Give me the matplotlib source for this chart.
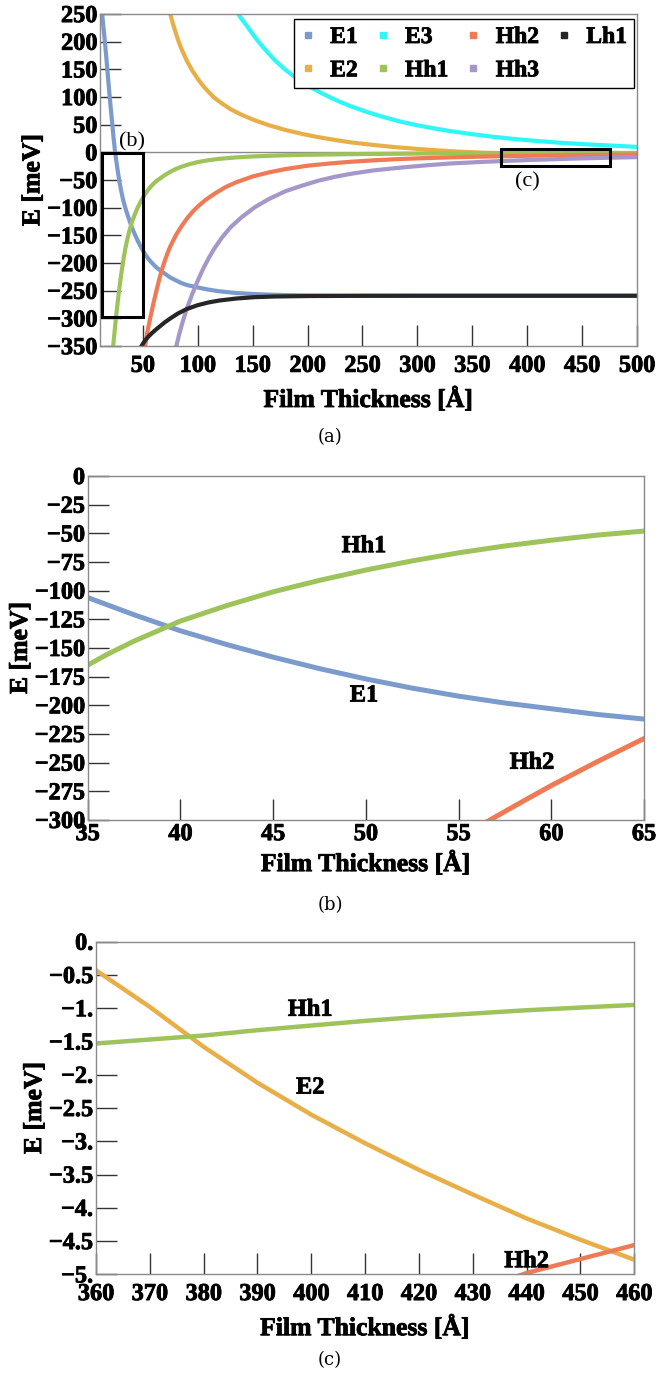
import matplotlib
matplotlib.use("Agg")
import matplotlib.pyplot as plt
import matplotlib.patheffects as pe
from matplotlib.lines import Line2D
from matplotlib.patches import Rectangle

# ---- energy levels vs film thickness ----
e1_x = [13, 14.2, 15.5, 16.5, 17.6, 18.7, 19.8, 21, 22.2, 23.4, 24.8, 26, 27, 28, 29, 30,
        31, 32, 33, 34, 35, 37.5, 40, 42.5, 45, 47.5, 50, 52.5, 55, 57.5, 60, 62.5, 65,
        70, 75, 80, 85, 90, 100, 110, 120, 135, 150, 165, 180, 200, 230, 300, 500]
e1_y = [250, 225, 200, 178, 152, 127, 102, 76, 51, 26, 0, -17, -31, -44, -56, -66, -76,
        -85, -92.5, -99.5, -106, -121, -135, -147, -158, -168, -177, -185, -192, -198,
        -203, -208, -212, -219, -226, -231, -236, -239.5, -244, -248, -251, -254, -255.8,
        -257, -257.8, -258.4, -258.8, -259, -259]

e2_x = [75, 77.5, 80, 82.5, 85, 90, 95, 100, 105, 110, 115, 122, 130, 140, 152, 165, 180,
        195, 210, 225, 240, 260, 280, 300, 320, 340, 360, 370, 380, 390, 400, 410, 420,
        430, 440, 450, 460, 480, 500]
e2_y = [250, 232, 216, 201, 188, 166, 148, 133, 120, 109, 99, 88.6, 78, 68, 58, 49, 40.5,
        33.5, 27.5, 22.5, 18, 13.5, 9.5, 6.3, 3.5, 1.2, -0.43, -0.98, -1.58, -2.12, -2.60,
        -3.03, -3.43, -3.80, -4.16, -4.48, -4.78, -5.3, -5.8]

e3_x = [137, 140, 145, 150, 155, 160, 170, 180, 190, 200, 210, 220, 230, 240, 255, 270,
        285, 300, 315, 330, 350, 370, 390, 410, 430, 450, 475, 500]
e3_y = [250, 241, 228, 214, 201, 189, 167, 149, 134, 121, 110, 100, 91, 83, 72.5, 63.5,
        55.5, 49, 43.5, 38.5, 33, 28, 24, 20.5, 17.5, 15, 12.5, 10]

hh1_x = [23, 24, 25, 26, 27, 28, 29, 30, 31, 32, 33, 34, 35, 36, 37.5, 40, 42.5, 45, 47.5,
         50, 52.5, 55, 57.5, 60, 62.5, 65, 70, 75, 80, 85, 92, 100, 110, 120, 135, 150,
         175, 200, 250, 300, 360, 370, 380, 390, 400, 410, 420, 430, 440, 450, 460, 500]
hh1_y = [-351, -330, -310, -291, -273, -256, -240, -225, -211, -198, -186, -175, -165,
         -156, -144, -126.5, -113, -101, -91, -82, -74, -67, -61, -56, -51.5, -48, -41,
         -35, -30, -26, -21.5, -17.5, -14, -11.5, -9, -7.3, -5.4, -4.2, -2.9, -2.1, -1.53,
         -1.47, -1.41, -1.33, -1.26, -1.19, -1.13, -1.08, -1.03, -0.99, -0.95, -0.8]

hh2_x = [52, 53, 54, 55, 56.7, 58, 60, 62.5, 65, 67.5, 70, 72.5, 75, 80, 85, 90, 95, 100,
         107, 115, 125, 135, 150, 165, 180, 200, 220, 240, 260, 280, 300, 330, 360, 400,
         440, 450, 460, 500]
hh2_y = [-350, -338, -326, -316, -300, -288, -270, -249, -229, -211, -196, -182, -170,
         -150, -134, -120, -108, -98, -86, -75, -63, -54, -43.5, -36, -30, -24, -20, -16.8,
         -14.3, -12.3, -10.7, -8.9, -7.5, -6.1, -4.98, -4.77, -4.56, -3.9]

hh3_x = [80.5, 83, 86, 90, 95, 100, 105, 110, 115, 122, 130, 140, 152, 165, 180, 195, 210,
         225, 240, 260, 287, 310, 330, 360, 400, 440, 470, 500]
hh3_y = [-350, -330, -308, -283, -256, -232, -210, -191, -174, -154, -135, -117, -99, -84,
         -70, -60, -51, -44, -38.5, -32.5, -27, -23, -20, -17, -13.8, -11.3, -9.8, -8.5]

lh1_x = [48.5, 50, 52, 55, 58, 62, 66, 70, 75, 82, 90, 100, 110, 120, 135, 152, 170, 200,
         250, 300, 500]
lh1_y = [-351, -346, -340, -333, -327, -320, -313.5, -307, -300, -291, -283, -276, -271,
         -267.5, -264, -261.5, -260.3, -259.5, -259.1, -259, -259]

names = ["E1", "E2", "E3", "Hh1", "Hh2", "Hh3", "Lh1"]
colors = ["#7b9bcc", "#e8ae48", "#2ff7f7", "#9dc35a", "#ef7a55", "#a597c9", "#262626"]

a_xticks = [50, 100, 150, 200, 250, 300, 350, 400, 450, 500]
a_yticks = [250, 200, 150, 100, 50, 0, -50, -100, -150, -200, -250, -300, -350]

b_xticks = [35, 40, 45, 50, 55, 60, 65]
b_yticks = [0, -25, -50, -75, -100, -125, -150, -175, -200, -225, -250, -275, -300]

c_xticks = [360, 370, 380, 390, 400, 410, 420, 430, 440, 450, 460]
c_yticks = [0, -0.5, -1, -1.5, -2, -2.5, -3, -3.5, -4, -4.5, -5]
c_ylabels = ["0.", "\u22120.5", "\u22121.", "\u22121.5", "\u22122.", "\u22122.5", "\u22123.",
             "\u22123.5", "\u22124.", "\u22124.5", "\u22125."]

plt.rcParams["font.family"] = ["Liberation Serif", "DejaVu Serif"]
plt.rcParams["font.weight"] = "bold"

fig = plt.figure(figsize=(6.56, 13.79), dpi=100)
ax_a = fig.add_axes([0.1524, 0.749, 0.8186, 0.2408])
ax_b = fig.add_axes([0.1337, 0.4054, 0.848, 0.2494])
ax_c = fig.add_axes([0.1463, 0.0759, 0.8206, 0.2412])

heavy = [pe.withStroke(linewidth=0.6, foreground="black")]


def style(ax, xt, yt, ylab=None, xpad=3, lpad=5):
    for s in ax.spines.values():
        s.set_color("#8a8a8a")
        s.set_linewidth(1.0)
    ax.set_xticks(xt)
    ax.set_yticks(yt)
    ax.set_xticklabels([str(v) for v in xt])
    if ylab is None:
        ylab = [str(v).replace("-", "\u2212") for v in yt]
    ax.set_yticklabels(ylab)
    ax.tick_params(direction="in", length=15, width=1.0, color="#333333",
                   labelsize=17.5, top=False, right=False)
    ax.tick_params(axis="y", pad=2)
    ax.tick_params(axis="x", pad=xpad)
    ax.set_xlabel("Film Thickness [\u00c5]", fontsize=18.5, fontweight="bold", labelpad=lpad)
    ax.set_ylabel("E [meV]", fontsize=18.5, fontweight="bold", labelpad=2)
    for t in ax.get_xticklabels() + ax.get_yticklabels():
        t.set_path_effects(heavy)
    ax.xaxis.label.set_path_effects(heavy)
    ax.yaxis.label.set_path_effects(heavy)


# (a)
series = [(e1_x, e1_y), (e2_x, e2_y), (e3_x, e3_y), (hh1_x, hh1_y), (hh2_x, hh2_y),
          (hh3_x, hh3_y), (lh1_x, lh1_y)]
ax_a.axhline(0, color="#8a8a8a", lw=1.0, zorder=1)
for (xs, ys), c in zip(series, colors):
    ax_a.plot(xs, ys, color=c, lw=3.0, solid_joinstyle="round", zorder=2)
ax_a.set_xlim(11, 500)
ax_a.set_ylim(-350, 250)
style(ax_a, a_xticks, a_yticks, xpad=7, lpad=8)
ax_a.add_patch(Rectangle((13, -297), 37, 296, fill=False, ec="black", lw=2.2, zorder=3))
ax_a.add_patch(Rectangle((376, -24.8), 99, 30.8, fill=False, ec="black", lw=2.2, zorder=3))
ax_a.text(39.8, 19, "(b)", fontsize=16, fontweight="normal", ha="center", va="center")
ax_a.text(400.5, -53, "(c)", fontsize=16, fontweight="normal", ha="center", va="center")
handles = [Line2D([], [], marker="s", ls="none", color=c, markersize=4) for c in colors]
leg = ax_a.legend(handles, names, ncol=4, loc="upper right", bbox_to_anchor=(0.995, 0.984),
                  borderaxespad=0, fancybox=False, framealpha=1, edgecolor="black",
                  prop={"size": 17, "weight": "bold"}, handlelength=0.6,
                  handletextpad=0.65, columnspacing=0.75, labelspacing=0.5,
                  borderpad=0.3)
leg.get_frame().set_linewidth(1.0)
for t in leg.get_texts():
    t.set_path_effects(heavy)

# (b)
ax_b.plot(e1_x, e1_y, color=colors[0], lw=3.6)
ax_b.plot(hh1_x, hh1_y, color=colors[3], lw=3.6)
ax_b.plot(hh2_x, hh2_y, color=colors[4], lw=3.6)
ax_b.set_xlim(35, 65)
ax_b.set_ylim(-300, 0)
style(ax_b, b_xticks, b_yticks)
for x, y, s in [(49.9, -61.6, "Hh1"), (49.9, -191.8, "E1"), (58.96, -250.5, "Hh2")]:
    ax_b.text(x, y, s, fontsize=17.5, ha="center", va="center", path_effects=heavy)

# (c)
ax_c.plot(e2_x, e2_y, color=colors[1], lw=3.2)
ax_c.plot(hh1_x, hh1_y, color=colors[3], lw=3.2)
ax_c.plot(hh2_x, hh2_y, color=colors[4], lw=3.2)
ax_c.set_xlim(360, 460)
ax_c.set_ylim(-5, 0)
style(ax_c, c_xticks, c_yticks, c_ylabels, xpad=7, lpad=8)
for x, y, s in [(399.8, -1.03, "Hh1"), (399.8, -2.2, "E2"), (440, -4.81, "Hh2")]:
    ax_c.text(x, y, s, fontsize=17.5, ha="center", va="center", path_effects=heavy)

for label, ypx in [("(a)", 437), ("(b)", 905), ("(c)", 1360)]:
    fig.text(330 / 656, 1 - ypx / 1379, label, fontsize=13, fontweight="normal",
             family=["DejaVu Serif"], ha="center", va="center")

fig.savefig("out.png", dpi=100)
print("saved out.png")
